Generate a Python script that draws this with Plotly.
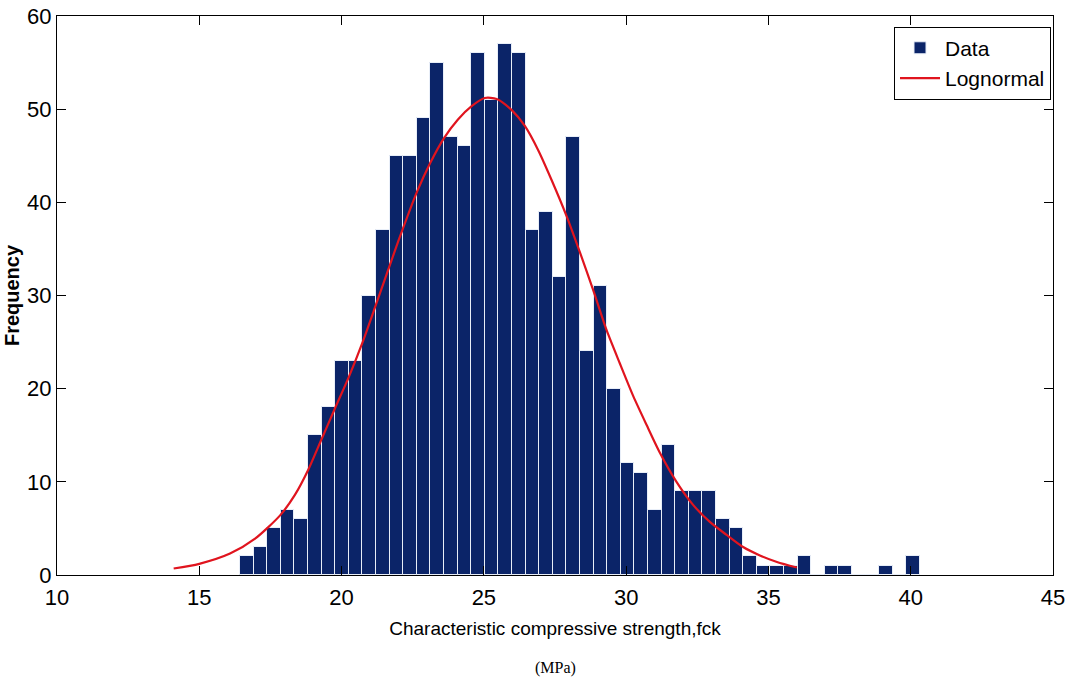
import plotly.graph_objects as go

# Histogram bin centres (MPa) and frequencies
bin_centers = [16.67, 17.15, 17.62, 18.10, 18.58, 19.06, 19.54, 20.01, 20.49, 20.97,
               21.45, 21.93, 22.40, 22.88, 23.36, 23.84, 24.32, 24.79, 25.27, 25.75,
               26.23, 26.71, 27.18, 27.66, 28.14, 28.62, 29.10, 29.57, 30.05, 30.53,
               31.01, 31.49, 31.96, 32.44, 32.92, 33.40, 33.88, 34.35, 34.83, 35.31,
               35.79, 36.27, 36.74, 37.22, 37.70, 38.18, 38.66, 39.13, 39.61, 40.09]
frequency = [2, 3, 5, 7, 6, 15, 18, 23, 23, 30,
             37, 45, 45, 49, 55, 47, 46, 56, 51, 57,
             56, 37, 39, 32, 47, 24, 31, 20, 12, 11,
             7, 14, 9, 9, 9, 6, 5, 2, 1, 1,
             1, 2, 0, 1, 1, 0, 0, 1, 0, 2]
bin_width = 0.478

# Lognormal fit curve points
curve_x = [14.1, 15.0, 16.08, 16.96, 17.84, 18.36, 18.83, 19.30, 19.77, 20.26,
           20.74, 21.23, 21.99, 22.66, 23.11, 23.60, 24.09, 24.56, 25.03, 25.45,
           25.98, 26.44, 26.91, 27.38, 27.91, 28.38, 28.84, 29.31, 29.78, 30.25,
           30.72, 31.19, 31.77, 32.36, 32.94, 33.53, 34.11, 34.70, 35.30, 36.0]
curve_y = [0.7, 1.2, 2.3, 3.9, 6.4, 8.6, 11.3, 14.6, 17.9, 21.3,
           25.0, 29.2, 35.8, 41.2, 44.2, 46.9, 48.9, 50.3, 51.2, 51.1,
           49.9, 48.2, 45.6, 42.4, 38.5, 34.6, 30.6, 26.3, 22.7, 19.2,
           16.1, 13.1, 10.0, 7.5, 5.7, 4.3, 3.0, 2.1, 1.4, 0.8]

x_ticks = [10, 15, 20, 25, 30, 35, 40, 45]
y_ticks = [0, 10, 20, 30, 40, 50, 60]

sans = "Liberation Sans, Arial, sans-serif"

fig = go.Figure()
fig.add_trace(go.Bar(
    x=bin_centers, y=frequency, width=bin_width, name="Data",
    marker=dict(color="#0b2468", line=dict(color="#e8eef8", width=1)),
))
fig.add_trace(go.Scatter(
    x=curve_x, y=curve_y, mode="lines", name="Lognormal",
    line=dict(color="#e0141e", width=2.2, shape="spline", smoothing=0.7),
))

axis_common = dict(
    showline=True, linecolor="black", linewidth=1, mirror="ticks",
    ticks="inside", ticklen=9, tickcolor="black", showgrid=False, zeroline=False,
    tickfont=dict(family=sans, size=22, color="black"),
)
fig.update_xaxes(range=[10, 45], tickvals=x_ticks, ticklabelstandoff=3, **axis_common,
                 title=dict(text="Characteristic compressive strength,fck",
                            font=dict(family=sans, size=19, color="black"),
                            standoff=12))
fig.update_yaxes(range=[0, 60], tickvals=y_ticks, **axis_common,
                 title=dict(text="<b>Frequency</b>",
                            font=dict(family=sans, size=20, color="black"),
                            standoff=2))

fig.add_annotation(text="(MPa)", xref="paper", yref="paper", x=0.5, y=-0.167,
                   xanchor="center", yanchor="middle", showarrow=False,
                   font=dict(family="Liberation Serif, Times New Roman, serif", size=16, color="black"))

fig.update_layout(
    width=1073, height=682,
    margin=dict(l=57, r=20, t=16, b=107, autoexpand=False),
    paper_bgcolor="white", plot_bgcolor="white",
    bargap=0,
    showlegend=True,
    legend=dict(x=0.998, y=0.981, xanchor="right", yanchor="top",
                bgcolor="white", bordercolor="black", borderwidth=1,
                font=dict(family=sans, size=21, color="black"),
                itemwidth=40, tracegroupgap=0),
)

fig.write_html("out.html")
